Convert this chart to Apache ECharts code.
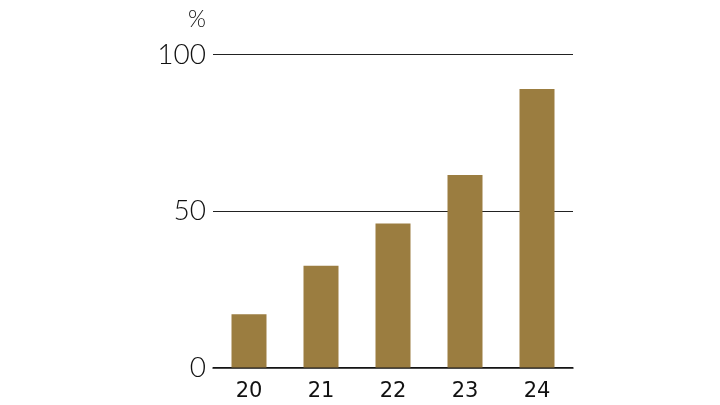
<!DOCTYPE html>
<html><head><meta charset="utf-8">
<script src="https://cdn.jsdelivr.net/npm/echarts@6/dist/echarts.min.js"></script>
<style>html,body{margin:0;padding:0;background:#fff}#c{width:720px;height:405px}</style>
</head><body><div id="c"></div>
<script>
const categories = ['20','21','22','23','24'];
const values = [17, 32.5, 46, 61.5, 89];
const yTicks = [0, 50, 100];
const unitLabel = '%';

const chart = echarts.init(document.getElementById('c'), null, {renderer:'canvas'});
chart.setOption({
  animation:false,
  backgroundColor:'#fff',
  grid:{left:213, right:147, top:54.5, bottom:37.5, containLabel:false},
  graphic:[{type:'text', left:188, top:8, style:{text:unitLabel, fontSize:23, fontFamily:'Lato', fontWeight:300, fill:'#111'}}],
  xAxis:{type:'category', data:categories,
    axisLine:{lineStyle:{color:'#111', width:1.5}},
    axisTick:{show:false},
    axisLabel:{color:'#111', fontSize:21, fontWeight:'normal', fontFamily:'DejaVu Sans', margin:14}},
  yAxis:{type:'value', min:yTicks[0], max:yTicks[yTicks.length-1], interval:50,
    axisLine:{show:false}, axisTick:{show:false},
    splitLine:{lineStyle:{color:'#222', width:1}},
    axisLabel:{color:'#111', fontSize:28, fontWeight:300, fontFamily:'Lato', margin:7}},
  series:[{type:'bar', data:values, barWidth:35,
    itemStyle:{color:'#9b7d40'}}]
});
</script></body></html>
